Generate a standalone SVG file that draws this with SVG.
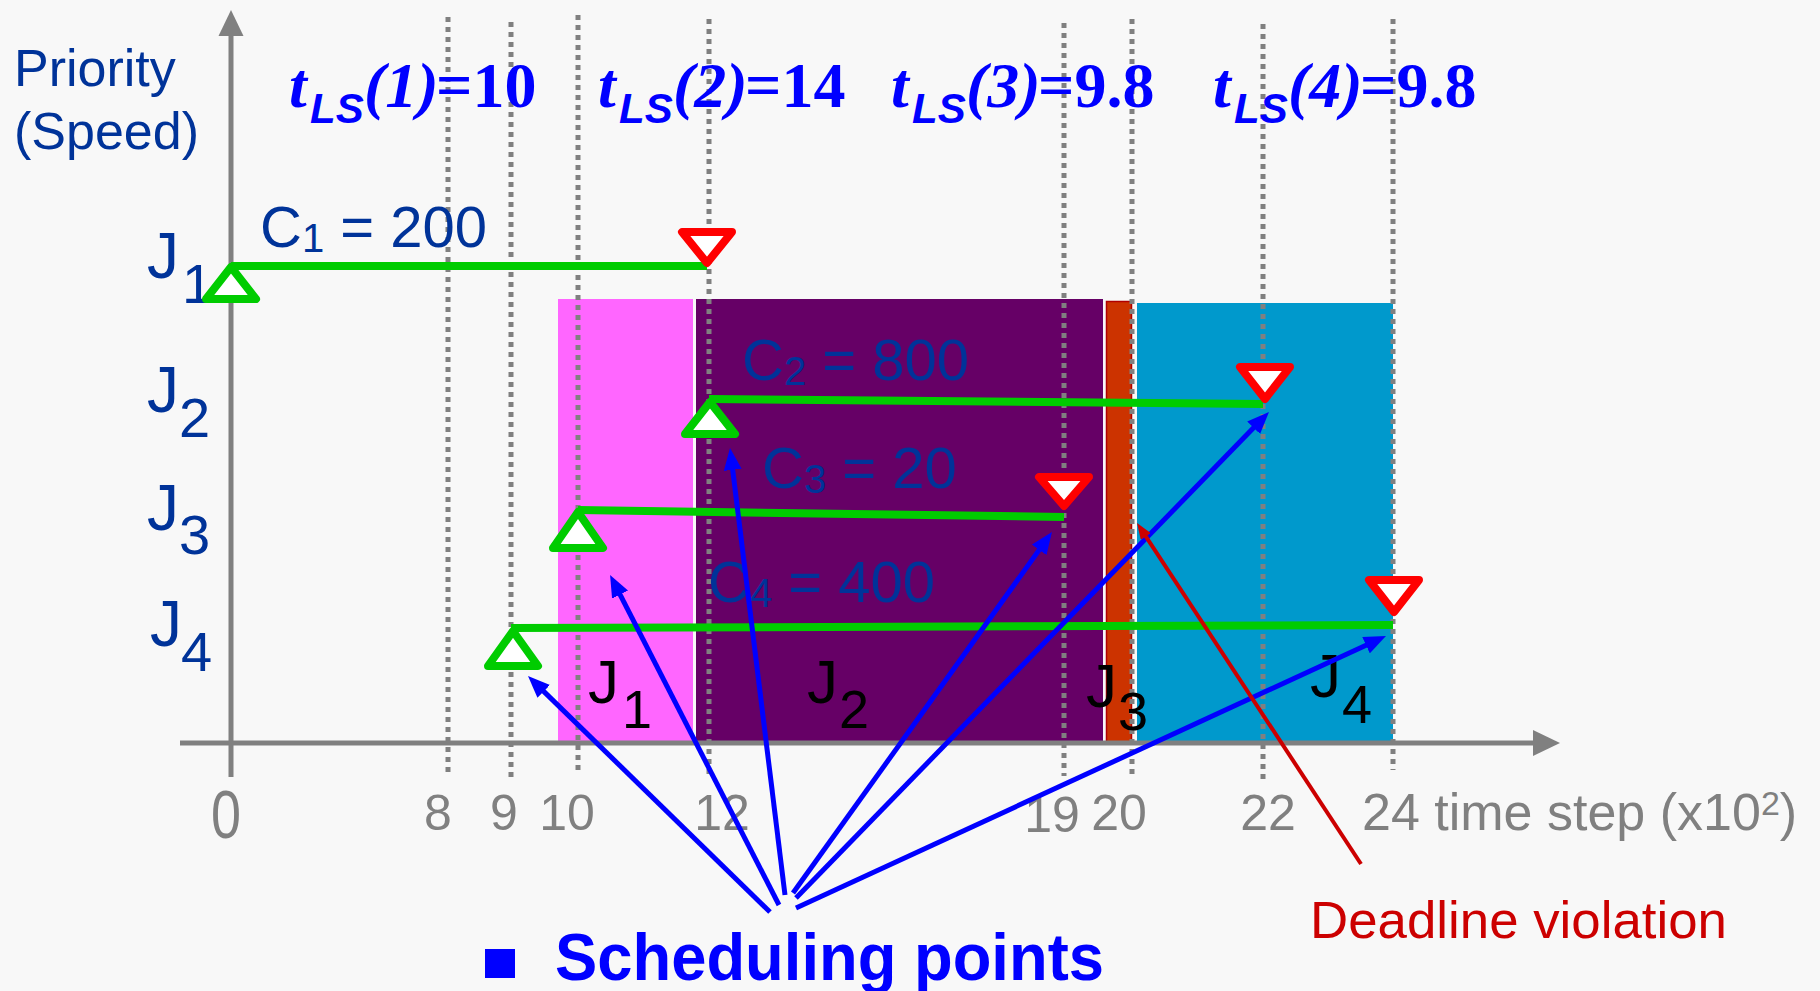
<svg xmlns="http://www.w3.org/2000/svg" width="1820" height="991" viewBox="0 0 1820 991">
<style>
.ax{stroke:#808080;stroke-width:5;fill:none}
.dot{stroke:#808080;stroke-width:5;stroke-dasharray:5 5;fill:none}
.win{stroke:#00CC00;stroke-width:8;fill:none;stroke-linecap:butt}
.rel{stroke:#00CC00;stroke-width:8;fill:#FFFFFF;stroke-linejoin:round}
.dl{stroke:#FF0000;stroke-width:8;fill:#FFFFFF;stroke-linejoin:round}
.lbl{font-family:"Liberation Sans",Arial,sans-serif;fill:#003399}
.blk{font-family:"Liberation Sans",Arial,sans-serif;fill:#000000;font-size:62px}
.num{font-family:"Liberation Sans",Arial,sans-serif;fill:#808080;font-size:50px;text-anchor:middle}
.tls{font-family:"Liberation Serif","Times New Roman",serif;font-weight:bold;font-style:italic;font-size:64px;fill:#0000FF}
.ls{font-family:"Liberation Sans",Arial,sans-serif;font-size:42px}
.up{font-style:normal}
.sp{stroke:#0000FF;stroke-width:5;fill:none}
</style>
<defs>
<marker id="ab" markerUnits="userSpaceOnUse" markerWidth="22" markerHeight="18" refX="9" refY="9" orient="auto"><path d="M0,0 L22,9 L0,18 z" fill="#0000FF"/></marker>
<marker id="ar" markerUnits="userSpaceOnUse" markerWidth="16" markerHeight="12" refX="6" refY="6" orient="auto"><path d="M0,0 L16,6 L0,12 z" fill="#CC0000"/></marker>
</defs>
<rect width="1820" height="991" fill="#F8F8F8"/>

<g id="blocks">
<rect x="558" y="299" width="135" height="444" fill="#FF66FF"/>
<rect x="696" y="299" width="407" height="444" fill="#660066"/>
<rect x="1106.5" y="301.5" width="25" height="441" fill="#CC3300" stroke="#B00000" stroke-width="1.5"/>
<rect x="1137" y="303" width="256" height="440" fill="#0099CC"/>
</g>

<g id="gridlines">
<line class="dot" x1="448" y1="17" x2="448" y2="776"/>
<line class="dot" x1="511" y1="22" x2="511" y2="780"/>
<line class="dot" x1="578" y1="15" x2="578" y2="773"/>
<line class="dot" x1="709" y1="19" x2="709" y2="777"/>
<line class="dot" x1="1064" y1="23" x2="1064" y2="776"/>
<line class="dot" x1="1132" y1="19" x2="1132" y2="777"/>
<line class="dot" x1="1263" y1="24" x2="1263" y2="782"/>
<line class="dot" x1="1393" y1="19" x2="1393" y2="770"/>
</g>

<g id="axes">
<line class="ax" x1="231" y1="34" x2="231" y2="777"/>
<path d="M231,10 L243.5,36 L218.5,36 z" fill="#808080"/>
<line class="ax" x1="180" y1="743" x2="1535" y2="743"/>
<path d="M1560,743 L1533,730 L1533,756 z" fill="#808080"/>
<text class="lbl" x="14" y="86" font-size="52">Priority</text>
<text class="lbl" x="14" y="149" font-size="52">(Speed)</text>
<text font-family="Liberation Sans, Arial, sans-serif" fill="#808080" font-size="68" x="211" y="838" textLength="30" lengthAdjust="spacingAndGlyphs">0</text>
<text class="num" x="438" y="830">8</text>
<text class="num" x="504" y="830">9</text>
<text class="num" x="567" y="830">10</text>
<text class="num" x="722" y="830">12</text>
<text class="num" x="1052" y="832">19</text>
<text class="num" x="1119" y="830">20</text>
<text class="num" x="1268" y="830">22</text>
<text font-family="Liberation Sans, Arial, sans-serif" font-size="52" fill="#808080" x="1362" y="830">24 time step (x10<tspan font-size="34" dy="-15">2</tspan><tspan dy="15">)</tspan></text>
</g>

<g id="tls">
<text class="tls" x="289" y="107">t<tspan class="ls" x="310" dy="16">LS</tspan><tspan x="364" dy="-16">(1)</tspan><tspan class="up" x="436">=10</tspan></text>
<text class="tls" x="598" y="107">t<tspan class="ls" x="619" dy="16">LS</tspan><tspan x="673" dy="-16">(2)</tspan><tspan class="up" x="745">=14</tspan></text>
<text class="tls" x="891" y="107">t<tspan class="ls" x="912" dy="16">LS</tspan><tspan x="966" dy="-16">(3)</tspan><tspan class="up" x="1038">=9.8</tspan></text>
<text class="tls" x="1213" y="107">t<tspan class="ls" x="1234" dy="16">LS</tspan><tspan x="1288" dy="-16">(4)</tspan><tspan class="up" x="1360">=9.8</tspan></text>
</g>

<g id="job1">
<text class="lbl" x="147" y="278" font-size="64">J<tspan x="182" y="303" font-size="56">1</tspan></text>
<line class="win" x1="231" y1="266" x2="707" y2="266"/>
<text class="lbl" x="260" y="247" font-size="58">C<tspan font-size="40" dy="5">1</tspan><tspan dy="-5"> = 200</tspan></text>
<polygon class="rel" points="231,267 256,299 206,299"/>
<polygon class="dl" points="682,232 732,232 707,263"/>
</g>

<g id="job2">
<text class="lbl" x="147" y="412" font-size="64">J<tspan x="179" y="437" font-size="56">2</tspan></text>
<text class="lbl" x="742" y="380" font-size="58">C<tspan font-size="40" dy="5">2</tspan><tspan dy="-5"> = 800</tspan></text>
<line class="win" x1="709" y1="399" x2="1263" y2="404"/>
<polygon class="rel" points="710,402 735,434 685,434"/>
<polygon class="dl" points="1240,367 1290,367 1265,399"/>
</g>

<g id="job3">
<text class="lbl" x="147" y="530" font-size="64">J<tspan x="179" y="554" font-size="56">3</tspan></text>
<text class="lbl" x="762" y="488" font-size="58">C<tspan font-size="40" dy="5">3</tspan><tspan dy="-5"> = 20</tspan></text>
<line class="win" x1="578" y1="510" x2="1064" y2="517"/>
<polygon class="rel" points="578,512 603,548 553,548"/>
<polygon class="dl" points="1039,477 1089,477 1064,506"/>
</g>

<g id="job4">
<text class="lbl" x="150" y="646" font-size="64">J<tspan x="181" y="671" font-size="56">4</tspan></text>
<text class="lbl" x="708" y="602" font-size="58">C<tspan font-size="40" dy="5">4</tspan><tspan dy="-5"> = 400</tspan></text>
<line class="win" x1="511" y1="628" x2="1393" y2="625"/>
<polygon class="rel" points="513,631 538,666 488,666"/>
<polygon class="dl" points="1369,580 1419,580 1394,612"/>
</g>

<g id="block-labels">
<text class="blk" x="588" y="703">J<tspan x="622" y="728" font-size="54">1</tspan></text>
<text class="blk" x="807" y="703">J<tspan x="839" y="728" font-size="54">2</tspan></text>
<text class="blk" x="1086" y="707">J<tspan x="1118" y="730" font-size="54">3</tspan></text>
<text class="blk" x="1310" y="697">J<tspan x="1342" y="723" font-size="54">4</tspan></text>
</g>

<g id="connectors">
<line class="sp" x1="770" y1="912" x2="537.3" y2="685.1" marker-end="url(#ab)"/>
<line class="sp" x1="779" y1="905" x2="616" y2="586.6" marker-end="url(#ab)"/>
<line class="sp" x1="785" y1="895" x2="731.6" y2="460.9" marker-end="url(#ab)"/>
<line class="sp" x1="793" y1="893" x2="1044.4" y2="542.6" marker-end="url(#ab)"/>
<line class="sp" x1="796" y1="898" x2="1259.9" y2="421.3" marker-end="url(#ab)" stroke-width="6"/>
<line class="sp" x1="796" y1="908" x2="1374.2" y2="641.4" marker-end="url(#ab)" stroke-width="6"/>
<line x1="1361" y1="864" x2="1142.5" y2="531.4" stroke="#CC0000" stroke-width="4" marker-end="url(#ar)"/>
</g>

<g id="legend">
<rect x="485" y="949" width="30" height="29" fill="#0000FF"/>
<text x="555" y="980" font-family="Liberation Sans, Arial, sans-serif" font-weight="bold" font-size="66" fill="#0000FF" textLength="549" lengthAdjust="spacingAndGlyphs">Scheduling points</text>
<text x="1310" y="938" font-family="Liberation Sans, Arial, sans-serif" font-size="52" fill="#CC0000" textLength="417" lengthAdjust="spacingAndGlyphs">Deadline violation</text>
</g>
</svg>
